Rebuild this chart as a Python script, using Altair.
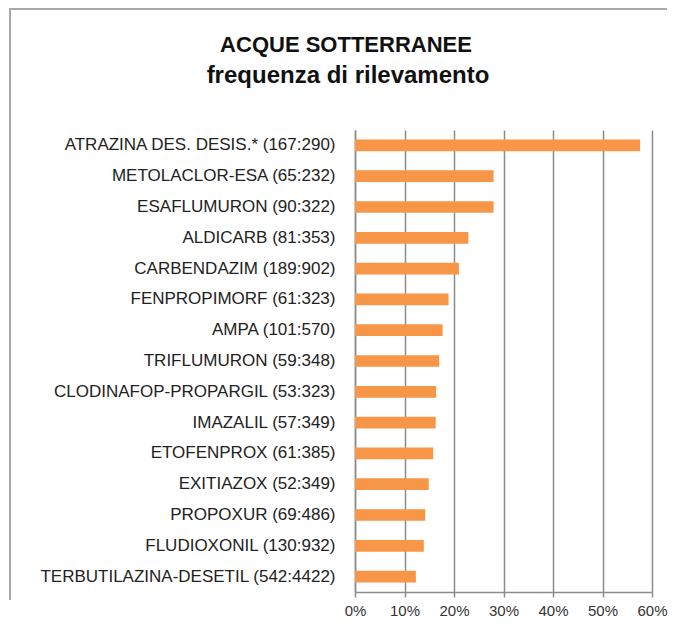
import altair as alt
import pandas as pd

categories = [
    "ATRAZINA DES. DESIS.* (167:290)",
    "METOLACLOR-ESA (65:232)",
    "ESAFLUMURON (90:322)",
    "ALDICARB (81:353)",
    "CARBENDAZIM (189:902)",
    "FENPROPIMORF (61:323)",
    "AMPA (101:570)",
    "TRIFLUMURON (59:348)",
    "CLODINAFOP-PROPARGIL (53:323)",
    "IMAZALIL (57:349)",
    "ETOFENPROX (61:385)",
    "EXITIAZOX (52:349)",
    "PROPOXUR (69:486)",
    "FLUDIOXONIL (130:932)",
    "TERBUTILAZINA-DESETIL (542:4422)",
]
values = [0.576, 0.280, 0.280, 0.229, 0.210, 0.189, 0.177, 0.170,
          0.164, 0.163, 0.158, 0.149, 0.142, 0.139, 0.123]
x_ticks = [0, 0.1, 0.2, 0.3, 0.4, 0.5, 0.6]
title_text = "ACQUE SOTTERRANEE"
subtitle_text = "frequenza di rilevamento"

df = pd.DataFrame({"cat": categories, "val": values})
tdf = pd.DataFrame({"t": [title_text]})
sdf = pd.DataFrame({"t": [subtitle_text]})

FONT = "Liberation Sans"
GRID = "#8c8c8c"

bars = alt.Chart(df).mark_bar(color="#F79646").encode(
    x=alt.X("val:Q",
            scale=alt.Scale(domain=[0, 0.6], nice=False),
            axis=alt.Axis(values=x_ticks, format=".0%", title=None,
                          grid=True, gridColor=GRID, gridWidth=1.5,
                          domainColor=GRID, domainWidth=1.5,
                          tickColor=GRID, tickWidth=1.5, tickSize=5,
                          labelFont=FONT, labelFontSize=15, labelColor="#333333",
                          labelPadding=6, labelFlush=False, labelOverlap=False)),
    y=alt.Y("cat:N", sort=categories,
            scale=alt.Scale(paddingInner=0.62, paddingOuter=0.31),
            axis=alt.Axis(title=None, ticks=False, domainColor=GRID, domainWidth=1.5,
                          labelFont=FONT, labelFontSize=17, labelColor="#222222",
                          labelPadding=20, labelLimit=0,
                          minExtent=347, maxExtent=347)),
)

border_top = alt.Chart(tdf).mark_rect(color="#a8a8a8").encode(
    x=alt.value(-346), x2=alt.value(312), y=alt.value(-122), y2=alt.value(-120))
border_left = alt.Chart(tdf).mark_rect(color="#a8a8a8").encode(
    x=alt.value(-346), x2=alt.value(-344), y=alt.value(-122), y2=alt.value(470))

title = alt.Chart(tdf).mark_text(
    font=FONT, fontSize=22, fontWeight="bold", color="#111111",
    align="center", baseline="alphabetic").encode(
    text="t:N", x=alt.value(-9), y=alt.value(-78))
subtitle = alt.Chart(sdf).mark_text(
    font=FONT, fontSize=24, fontWeight="bold", color="#111111",
    align="center", baseline="alphabetic").encode(
    text="t:N", x=alt.value(-7), y=alt.value(-47))

chart = alt.layer(border_top, border_left, title, subtitle, bars).properties(
    width=297, height=462,
    padding={"left": 0, "top": 0, "right": 0, "bottom": 0},
).configure_view(stroke=None)

chart.save("out.html", embed_options={"renderer": "svg", "actions": False})
